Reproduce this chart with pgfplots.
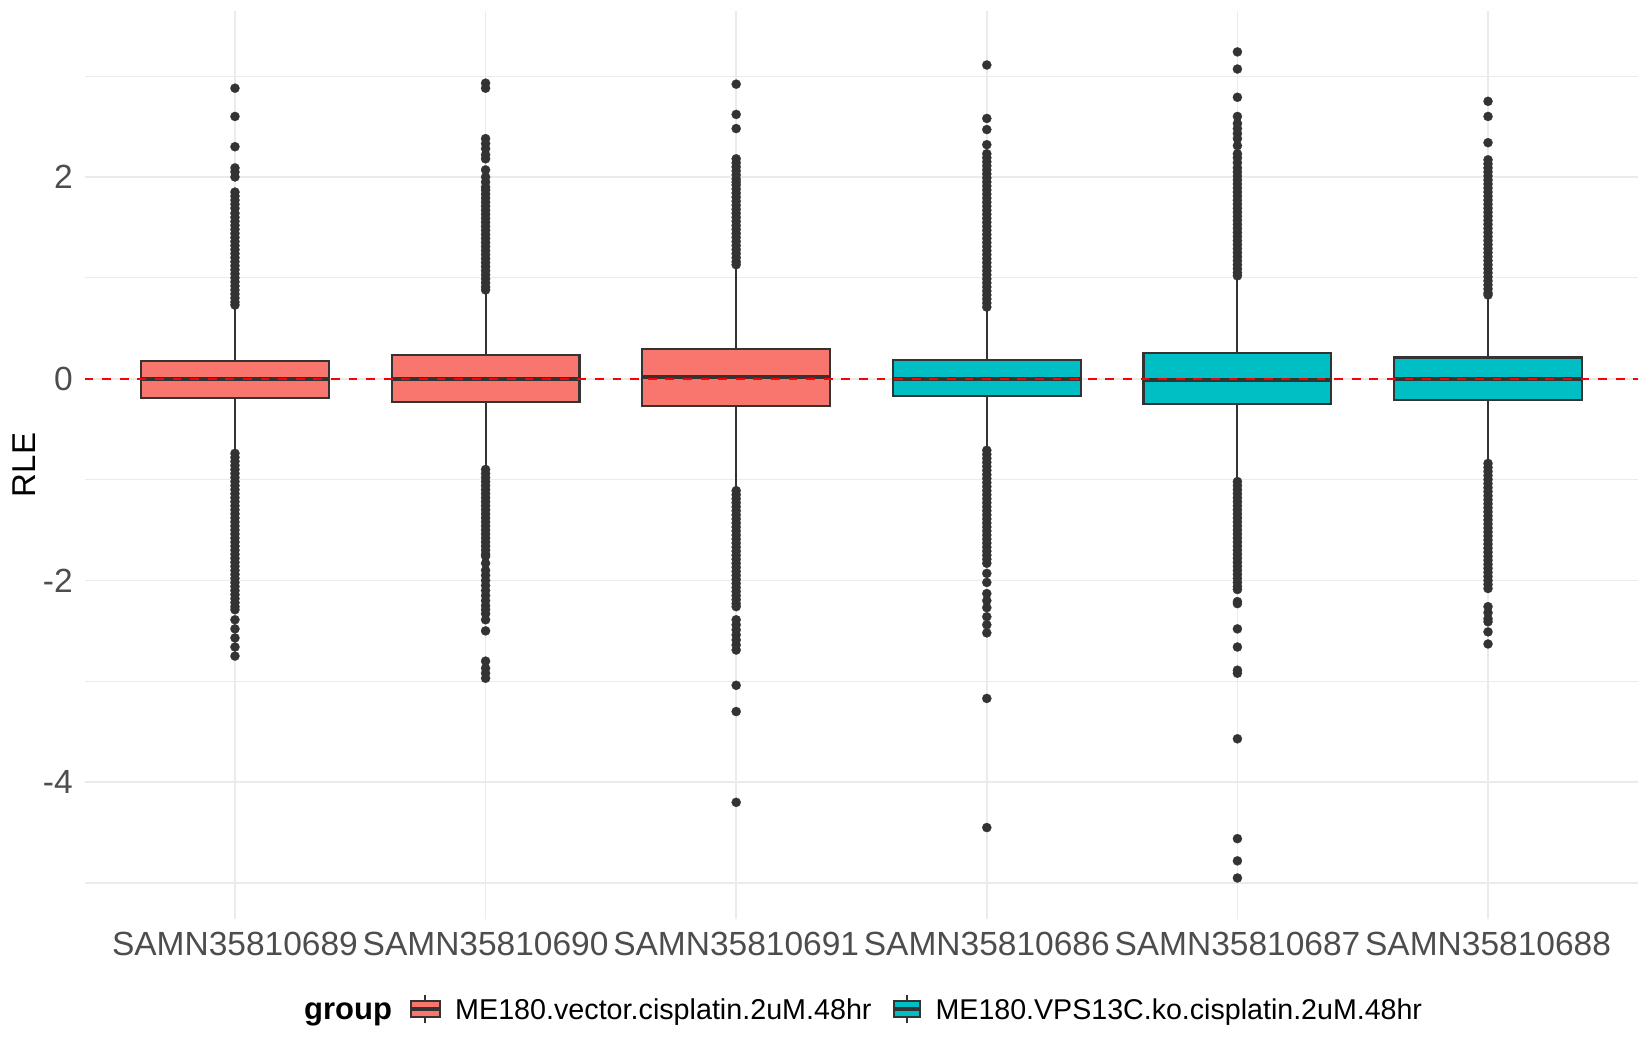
\documentclass[border=0pt]{standalone}
\usepackage{fontspec}
\setmainfont{Liberation Sans}
\usepackage{pgfplots}
\usepackage{pgfplotstable}
\pgfplotsset{compat=1.18}
\usepgfplotslibrary{statistics}
\definecolor{boxred}{HTML}{F8766D}
\definecolor{boxteal}{HTML}{00BFC4}
\definecolor{c333}{HTML}{333333}
\definecolor{gridc}{HTML}{EBEBEB}
\definecolor{tickc}{HTML}{4D4D4D}

% outliers, one table per sample
\pgfplotstableread[row sep=\\]{y\\
2.88\\ 2.60\\ 2.30\\ 2.09\\ 2.05\\ 2.00\\ 1.85\\ 1.81\\ 1.77\\ 1.73\\ 1.69\\
1.64\\ 1.60\\ 1.56\\ 1.52\\ 1.48\\ 1.44\\ 1.40\\ 1.36\\ 1.32\\ 1.28\\ 1.24\\ 1.20\\ 1.16\\ 1.12\\ 1.08\\ 1.04\\ 1.00\\ 0.96\\ 0.92\\ 0.88\\ 0.84\\ 0.80\\ 0.76\\ 0.73\\
-0.74\\ -0.78\\ -0.82\\ -0.86\\ -0.90\\ -0.94\\ -0.98\\ -1.02\\ -1.06\\ -1.10\\ -1.14\\ -1.18\\ -1.22\\ -1.26\\ -1.30\\ -1.34\\ -1.38\\ -1.42\\ -1.46\\ -1.50\\
-1.54\\ -1.58\\ -1.62\\ -1.66\\ -1.70\\ -1.74\\ -1.78\\ -1.82\\ -1.86\\ -1.90\\ -1.94\\ -1.98\\ -2.02\\ -2.06\\ -2.10\\ -2.14\\ -2.18\\ -2.22\\ -2.26\\ -2.29\\
-2.39\\ -2.48\\ -2.57\\ -2.66\\ -2.75\\
}\outA
\pgfplotstableread[row sep=\\]{y\\
2.93\\ 2.88\\ 2.38\\ 2.33\\ 2.28\\ 2.22\\ 2.18\\ 2.07\\ 2.00\\ 1.95\\ 1.90\\
1.87\\ 1.83\\ 1.79\\ 1.75\\ 1.71\\ 1.67\\ 1.63\\ 1.59\\ 1.55\\ 1.51\\ 1.47\\ 1.43\\ 1.39\\ 1.35\\ 1.31\\ 1.27\\ 1.23\\ 1.19\\ 1.15\\ 1.11\\ 1.07\\ 1.03\\ 0.99\\ 0.95\\ 0.91\\ 0.88\\
-0.90\\ -0.94\\ -0.98\\ -1.02\\ -1.06\\ -1.10\\ -1.14\\ -1.18\\ -1.22\\ -1.26\\ -1.30\\ -1.34\\ -1.38\\ -1.42\\ -1.46\\ -1.50\\ -1.54\\ -1.58\\ -1.62\\ -1.66\\ -1.70\\ -1.74\\ -1.76\\
-1.83\\ -1.90\\ -1.95\\ -2.00\\ -2.05\\ -2.10\\ -2.15\\ -2.20\\ -2.25\\ -2.29\\ -2.33\\ -2.39\\ -2.50\\ -2.80\\ -2.87\\ -2.92\\ -2.97\\
}\outB
\pgfplotstableread[row sep=\\]{y\\
2.92\\ 2.62\\ 2.48\\ 2.18\\ 2.14\\ 2.10\\ 2.06\\ 2.02\\ 1.98\\ 1.95\\
1.92\\ 1.88\\ 1.84\\ 1.80\\ 1.76\\ 1.72\\ 1.68\\ 1.64\\ 1.60\\ 1.56\\ 1.52\\ 1.48\\ 1.44\\ 1.40\\ 1.36\\ 1.32\\ 1.28\\ 1.24\\ 1.20\\ 1.16\\ 1.13\\
-1.11\\ -1.15\\ -1.19\\ -1.23\\ -1.27\\ -1.31\\ -1.35\\ -1.39\\ -1.43\\ -1.47\\ -1.51\\ -1.55\\ -1.59\\ -1.63\\ -1.67\\ -1.71\\ -1.75\\ -1.79\\ -1.83\\ -1.87\\
-1.91\\ -1.95\\ -1.99\\ -2.03\\ -2.07\\ -2.11\\ -2.15\\ -2.19\\ -2.23\\ -2.26\\
-2.39\\ -2.44\\ -2.49\\ -2.54\\ -2.59\\ -2.64\\ -2.69\\ -3.04\\ -3.30\\ -4.20\\
}\outC
\pgfplotstableread[row sep=\\]{y\\
3.11\\ 2.58\\ 2.47\\ 2.32\\ 2.23\\ 2.19\\ 2.15\\ 2.11\\ 2.07\\ 2.03\\ 1.99\\ 1.95\\ 1.91\\
1.87\\ 1.83\\ 1.79\\ 1.75\\ 1.71\\ 1.67\\ 1.63\\ 1.59\\ 1.55\\ 1.51\\ 1.47\\ 1.43\\ 1.39\\ 1.35\\ 1.31\\ 1.27\\ 1.23\\ 1.19\\ 1.15\\ 1.11\\ 1.07\\ 1.03\\ 0.99\\ 0.95\\ 0.91\\ 0.87\\ 0.83\\ 0.79\\ 0.75\\ 0.71\\
-0.71\\ -0.75\\ -0.79\\ -0.83\\ -0.87\\ -0.91\\ -0.95\\ -0.99\\ -1.03\\ -1.07\\ -1.11\\ -1.15\\ -1.19\\ -1.23\\ -1.27\\ -1.31\\ -1.35\\ -1.39\\ -1.43\\ -1.47\\
-1.51\\ -1.55\\ -1.59\\ -1.63\\ -1.67\\ -1.71\\ -1.75\\ -1.79\\
-1.83\\ -1.93\\ -2.02\\ -2.13\\ -2.20\\ -2.27\\ -2.36\\ -2.44\\ -2.52\\ -3.17\\ -4.45\\
}\outD
\pgfplotstableread[row sep=\\]{y\\
3.24\\ 3.07\\ 2.79\\ 2.60\\ 2.53\\ 2.48\\ 2.43\\ 2.38\\ 2.31\\ 2.23\\ 2.19\\ 2.14\\ 2.09\\
2.05\\ 2.01\\ 1.97\\ 1.93\\ 1.89\\ 1.85\\ 1.81\\ 1.77\\ 1.73\\ 1.69\\ 1.65\\ 1.61\\ 1.57\\ 1.53\\ 1.49\\ 1.45\\ 1.41\\ 1.37\\ 1.33\\ 1.29\\ 1.25\\ 1.21\\ 1.17\\ 1.13\\ 1.09\\ 1.05\\ 1.02\\
-1.02\\ -1.06\\ -1.10\\ -1.14\\ -1.18\\ -1.22\\ -1.26\\ -1.30\\ -1.34\\ -1.38\\ -1.42\\ -1.46\\ -1.50\\ -1.54\\ -1.58\\ -1.62\\ -1.66\\ -1.70\\ -1.74\\ -1.78\\
-1.82\\ -1.86\\ -1.90\\ -1.94\\ -1.98\\ -2.02\\ -2.06\\ -2.09\\
-2.21\\ -2.23\\ -2.48\\ -2.66\\ -2.89\\ -2.92\\ -3.57\\ -4.56\\ -4.78\\ -4.95\\
}\outE
\pgfplotstableread[row sep=\\]{y\\
2.75\\ 2.60\\ 2.34\\
2.17\\ 2.13\\ 2.09\\ 2.05\\ 2.01\\ 1.97\\ 1.93\\ 1.89\\ 1.85\\ 1.81\\ 1.77\\ 1.73\\ 1.69\\ 1.65\\ 1.61\\ 1.57\\ 1.53\\ 1.49\\ 1.45\\ 1.41\\
1.37\\ 1.33\\ 1.29\\ 1.25\\ 1.21\\ 1.17\\ 1.13\\ 1.09\\ 1.05\\ 1.01\\ 0.97\\ 0.93\\ 0.89\\ 0.85\\ 0.83\\
-0.84\\ -0.88\\ -0.92\\ -0.96\\ -1.00\\ -1.04\\ -1.08\\ -1.12\\ -1.16\\ -1.20\\ -1.24\\ -1.28\\ -1.32\\ -1.36\\ -1.40\\ -1.44\\ -1.48\\ -1.52\\ -1.56\\ -1.60\\
-1.64\\ -1.68\\ -1.72\\ -1.76\\ -1.80\\ -1.84\\ -1.88\\ -1.92\\ -1.96\\ -2.00\\ -2.04\\ -2.08\\
-2.26\\ -2.32\\ -2.38\\ -2.41\\ -2.51\\ -2.63\\
}\outF

\pgfplotsset{
  rlebox/.style={
    boxplot prepared={#1},
    boxplot/draw direction=y,
    draw=c333, line width=1.1pt,
    boxplot/box extend=0.75,
    boxplot/whisker extend=0,
    boxplot/every median/.style={line width=2pt},
    boxplot/every whisker/.style={line width=1pt},
    mark=*, mark size=2.3pt,
    mark options={fill=c333, draw=c333, line width=0.1pt, solid},
  }
}

\begin{document}
\begin{tikzpicture}
\path[use as bounding box] (0,0) rectangle (825pt,525pt);
\begin{axis}[
  at={(42.3pt,65.35pt)}, anchor=south west,
  scale only axis, width=776.9pt, height=454.35pt,
  xmin=0.4, xmax=6.6, ymin=-5.3595, ymax=3.6495,
  xtick={1,2,3,4,5,6},
  xticklabels={SAMN35810689,SAMN35810690,SAMN35810691,SAMN35810686,SAMN35810687,SAMN35810688},
  ytick={-4,-2,0,2}, yticklabels={-4,-2,0,2},
  minor ytick={-5,-3,-1,1,3},
  xmajorgrids, ymajorgrids, yminorgrids,
  major grid style={draw=gridc, line width=0.9pt},
  minor grid style={draw=gridc, line width=0.55pt},
  axis line style={draw=none},
  major tick length=0pt, minor tick length=0pt,
  tick style={draw=none},
  x tick label style={font=\fontsize{16.75}{20}\selectfont, text=tickc, inner sep=0pt, anchor=north, yshift=-6.35pt},
  y tick label style={font=\fontsize{16.75}{20}\selectfont, text=tickc, inner sep=0pt, anchor=east, xshift=-5.75pt},
  ylabel={RLE},
  ylabel style={at={(axis description cs:-0.0391,0.5)}, anchor=center, font=\fontsize{16.5}{20}\selectfont, text=black, inner sep=0pt},
]
\addplot[rlebox={lower whisker=-0.72, lower quartile=-0.191, median=0, upper quartile=0.178, upper whisker=0.71, draw position=1}, fill=boxred] table[y index=0] {\outA};
\addplot[rlebox={lower whisker=-0.88, lower quartile=-0.228, median=0, upper quartile=0.231, upper whisker=0.86, draw position=2}, fill=boxred] table[y index=0] {\outB};
\addplot[rlebox={lower whisker=-1.09, lower quartile=-0.267, median=0.013, upper quartile=0.294, upper whisker=1.11, draw position=3}, fill=boxred] table[y index=0] {\outC};
\addplot[rlebox={lower whisker=-0.69, lower quartile=-0.175, median=0, upper quartile=0.182, upper whisker=0.68, draw position=4}, fill=boxteal] table[y index=0] {\outD};
\addplot[rlebox={lower whisker=-1.00, lower quartile=-0.251, median=-0.01, upper quartile=0.254, upper whisker=1.00, draw position=5}, fill=boxteal] table[y index=0] {\outE};
\addplot[rlebox={lower whisker=-0.82, lower quartile=-0.211, median=0, upper quartile=0.211, upper whisker=0.81, draw position=6}, fill=boxteal] table[y index=0] {\outF};
\addplot[draw=red, line width=1.05pt, dash pattern=on 4.4pt off 4.4pt] coordinates {(0.4,0) (6.6,0)};
\end{axis}
% legend
\node[anchor=base west, inner sep=0pt, font=\fontsize{15.5}{18}\selectfont\bfseries] at (151.9pt,15.35pt) {group};
\draw[c333, line width=1pt] (212.675pt,13.35pt) -- (212.675pt,27.5pt);
\filldraw[fill=boxred, draw=c333, line width=1.1pt] (205.35pt,16.35pt) rectangle (220pt,24.5pt);
\draw[c333, line width=1.8pt] (205.35pt,20.45pt) -- (220pt,20.45pt);
\node[anchor=base west, inner sep=0pt, font=\fontsize{14.35}{17}\selectfont] at (227.4pt,15.35pt) {ME180.vector.cisplatin.2uM.48hr};
\draw[c333, line width=1pt] (453.425pt,13.35pt) -- (453.425pt,27.5pt);
\filldraw[fill=boxteal, draw=c333, line width=1.1pt] (446.85pt,16.35pt) rectangle (460pt,24.5pt);
\draw[c333, line width=1.8pt] (446.85pt,20.45pt) -- (460pt,20.45pt);
\node[anchor=base west, inner sep=0pt, font=\fontsize{14.3}{17}\selectfont] at (467.6pt,15.35pt) {ME180.VPS13C.ko.cisplatin.2uM.48hr};
\end{tikzpicture}
\end{document}
